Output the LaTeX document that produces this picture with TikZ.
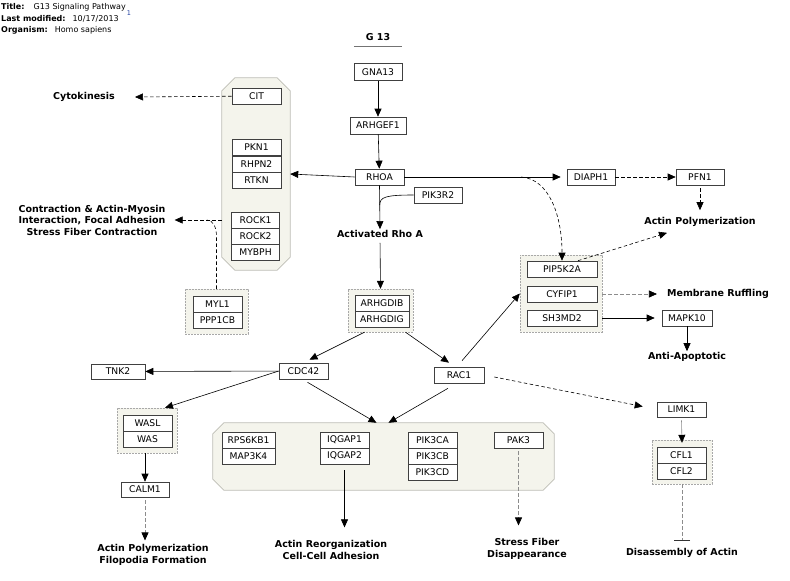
\documentclass[tikz,border=0pt]{standalone}
\usepackage{fontspec}
\setmainfont{DejaVu Sans}
\usetikzlibrary{arrows.meta,calc}
\definecolor{gfill}{HTML}{F4F4EC}
\definecolor{gline}{HTML}{BDBDB5}
\definecolor{dline}{HTML}{A8A8A8}
\definecolor{lnk}{HTML}{2040A0}
% octagon outline round a group node
\newcommand\chamf[2]{\draw[draw=gline,fill=gfill,line width=0.8pt]
  ($(#1.north west)+(#2,0)$) -- ($(#1.north east)+(-#2,0)$) -- ($(#1.north east)+(0,#2)$)
  -- ($(#1.south east)+(0,-#2)$) -- ($(#1.south east)+(-#2,0)$) -- ($(#1.south west)+(#2,0)$)
  -- ($(#1.south west)+(0,-#2)$) -- ($(#1.north west)+(0,#2)$) -- cycle;}

\begin{document}
\begin{tikzpicture}[x=1pt,y=-1pt,font=\fontsize{9.2}{11}\selectfont,
  gn/.style={draw=black!75,fill=white,minimum width=49pt,minimum height=16pt,inner sep=0pt,line width=0.6pt},
  cg/.style={inner sep=0pt},
  sg/.style={draw=dline,fill=gfill,inner sep=0pt,dash pattern=on 2pt off 1pt},
  lb/.style={font=\fontsize{9.5}{11.5}\selectfont\bfseries,align=center,inner sep=1pt},
  hd/.style={font=\fontsize{8}{10}\selectfont,inner sep=0pt,anchor=west},
  ar/.style={-{Triangle[length=8pt,width=7pt]},line width=0.6pt},
  dar/.style={ar,dash pattern=on 3.5pt off 2.5pt},
  gar/.style={-{Triangle[length=8pt,width=7pt,color=black]},line width=0.6pt,draw=black!45},
  gdar/.style={gar,dash pattern=on 3.5pt off 2.5pt},
  tbar/.style={-{Bar[width=16pt,line width=1.6pt,color=black!80]},line width=0.6pt,draw=black!45,dash pattern=on 3.5pt off 2.5pt}]
\useasboundingbox (0,0) rectangle (790,581);

% header
\node[hd] (ttl) at (1,7) {\textbf{Title:}\hspace{9pt}G13 Signaling Pathway};
\node[hd] (mod) at (1,18.5) {\textbf{Last modified:}\hspace{7pt}10/17/2013};
\node[hd] (org) at (1,30) {\textbf{Organism:}\hspace{7pt}Homo sapiens};
\node[font=\fontsize{6.5}{7}\selectfont,text=lnk,inner sep=0pt] (ref) at (129,13) {1};
\node[lb,minimum width=48pt] (g13) at (378,37) {G 13};
\draw[black!55] ([yshift=-4pt]g13.south west) -- ([yshift=-4pt]g13.south east);

% groups
\node[cg,minimum width=68pt,minimum height=192pt] (lgrp) at (256,174) {};
\node[cg,minimum width=341pt,minimum height=67pt] (bgrp) at (383.5,456.5) {};
\chamf{lgrp}{13}
\chamf{bgrp}{11}
\node[sg,minimum width=82pt,minimum height=77pt] (rgrp) at (561,293.5) {};
\node[sg,minimum width=65pt,minimum height=43pt] (dgrp) at (380.5,310.5) {};
\node[sg,minimum width=63pt,minimum height=45pt] (mgrp) at (216.5,311.5) {};
\node[sg,minimum width=60pt,minimum height=45pt] (wgrp) at (147,430.5) {};
\node[sg,minimum width=60pt,minimum height=44pt] (cgrp) at (682,462) {};

% gene products
\node[gn,minimum width=48pt,minimum height=17pt] (gna13) at (378,72) {GNA13};
\node[gn,minimum width=56pt,minimum height=17pt] (arhgef1) at (378,125.5) {ARHGEF1};
\node[gn] (rhoa) at (379.5,177) {RHOA};
\node[gn,minimum width=48pt] (pik3r2) at (438,195) {PIK3R2};
\node[gn] (cit) at (256.5,96) {CIT};
\node[gn] (pkn1) at (256.5,147.5) {PKN1};
\node[gn] (rhpn2) at (256.5,164) {RHPN2};
\node[gn] (rtkn) at (256.5,180) {RTKN};
\node[gn,minimum width=48pt] (rock1) at (255.5,220) {ROCK1};
\node[gn,minimum width=48pt] (rock2) at (255.5,236) {ROCK2};
\node[gn,minimum width=48pt] (mybph) at (255.5,252) {MYBPH};
\node[gn] (myl1) at (217.5,304.5) {MYL1};
\node[gn] (ppp1cb) at (217.5,320.5) {PPP1CB};
\node[gn,minimum width=54pt] (arhgdib) at (382,303.5) {ARHGDIB};
\node[gn,minimum width=54pt] (arhgdig) at (382,319.5) {ARHGDIG};
\node[gn] (cdc42) at (303.5,371) {CDC42};
\node[gn,minimum width=54pt,minimum height=15pt] (tnk2) at (118,371.5) {TNK2};
\node[gn,minimum width=50pt] (rac1) at (459,375) {RAC1};
\node[gn] (wasl) at (147.5,423) {WASL};
\node[gn] (was) at (147.5,439) {WAS};
\node[gn,minimum width=48pt,minimum height=15pt] (calm1) at (145,489.5) {CALM1};
\node[gn,minimum width=53pt] (rps6kb1) at (248.5,440) {RPS6KB1};
\node[gn,minimum width=53pt] (map3k4) at (248.5,456) {MAP3K4};
\node[gn] (iqgap1) at (344.5,440) {IQGAP1};
\node[gn] (iqgap2) at (344.5,456) {IQGAP2};
\node[gn] (pik3ca) at (432.5,440) {PIK3CA};
\node[gn] (pik3cb) at (432.5,456) {PIK3CB};
\node[gn] (pik3cd) at (432.5,472) {PIK3CD};
\node[gn] (pak3) at (518.5,440) {PAK3};
\node[gn,minimum width=70pt] (pip5k2a) at (562,269) {PIP5K2A};
\node[gn,minimum width=70pt] (cyfip1) at (562,294) {CYFIP1};
\node[gn,minimum width=70pt] (sh3md2) at (562,318) {SH3MD2};
\node[gn,minimum width=48pt] (diaph1) at (591,177) {DIAPH1};
\node[gn,minimum width=48pt] (pfn1) at (700,177) {PFN1};
\node[gn,minimum width=50pt] (mapk10) at (687,318) {MAPK10};
\node[gn,minimum height=15pt] (limk1) at (681.5,409.5) {LIMK1};
\node[gn] (cfl1) at (681.5,455) {CFL1};
\node[gn] (cfl2) at (681.5,471) {CFL2};

% labels
\node[lb] (cyto) at (84,97) {Cytokinesis};
\node[lb] (contr) at (92,220) {Contraction \& Actin-Myosin\\Interaction, Focal Adhesion\\Stress Fiber Contraction};
\node[lb] (actrho) at (380,234) {Activated Rho A};
\node[lb] (actpol) at (700,222) {Actin Polymerization};
\node[lb] (memruf) at (718,294) {Membrane Ruffling};
\node[lb] (antiapo) at (687,357) {Anti-Apoptotic};
\node[lb] (filo) at (153,555) {Actin Polymerization\\Filopodia Formation};
\node[lb] (reorg) at (331,550) {Actin Reorganization\\Cell-Cell Adhesion};
\node[lb] (sfd) at (527,549) {Stress Fiber\\Disappearance};
\node[lb] (disas) at (682,553) {Disassembly of Actin};

% connectors
\coordinate (pj) at ($(rhoa.south)!0.45!(actrho.north)$);
\coordinate (rj) at ($(rhoa.east)!0.72!(diaph1.west)$);
\coordinate (cj) at ($(rock1.west -| lgrp.west)!0.27!(contr.east)$);
\draw[ar] (gna13) -- (arhgef1);
\draw[ar] (arhgef1) -- (rhoa);
\draw[ar] (rhoa.south) -- (actrho.north);
\draw[line width=0.6pt] (pik3r2.west) .. controls +(-28,0) and +(0,-8) .. (pj);
\draw[ar,shorten <=4pt] (actrho.south) -- (dgrp.north);
\draw[ar] (rhoa.west) -- (lgrp.east);
\draw[ar,shorten >=6pt] (rhoa.east) -- (diaph1.west);
\draw[dar] (rj) .. controls +(28,2) and +(0,-45) .. (pip5k2a.north);
\draw[dar] (diaph1) -- (pfn1);
\draw[dar] ([yshift=-3pt]pfn1.south) -- ([yshift=6pt]actpol.north);
\draw[dar] ([xshift=16pt]pip5k2a.north) -- ([xshift=-33pt,yshift=-5pt]actpol.south);
\draw[gdar] (cyfip1.east -| rgrp.east) -- ([xshift=-9pt]memruf.west);
\draw[ar,shorten >=7pt] (sh3md2.east -| rgrp.east) -- (mapk10.west);
\draw[ar] (mapk10) -- (antiapo);
\draw[ar] ([xshift=3pt,yshift=6pt]rac1.north) -- (rgrp.west);
\draw[ar] ([xshift=-16pt]dgrp.south) -- ([xshift=6pt,yshift=3pt]cdc42.north);
\draw[ar] ([xshift=25pt]dgrp.south) -- ([xshift=-10pt,yshift=4pt]rac1.north);
\draw[ar] (cdc42) -- (tnk2);
\draw[ar] (cdc42.west) -- ([xshift=18pt]wgrp.north);
\draw[ar] ([xshift=4pt,yshift=-3pt]cdc42.south) -- ([xshift=-7pt]bgrp.north);
\draw[ar] ([xshift=-11pt,yshift=-5pt]rac1.south) -- ([xshift=5pt]bgrp.north);
\draw[dar] ([xshift=10pt,yshift=-2pt]rac1.east) -- ([xshift=-14pt,yshift=3pt]limk1.west);
\draw[gar] ([yshift=-3pt]limk1.south) -- ([yshift=-3pt]cgrp.north);
\draw[tbar] (cgrp.south) -- ([yshift=6pt]disas.north);
\draw[ar] (wgrp.south -| calm1) -- (calm1.north);
\draw[gdar] ([yshift=-3pt]calm1.south) -- ($(calm1.south |- filo.north)+(0,-3)$);
\draw[ar] ([yshift=-6pt]iqgap2.south) -- ($(iqgap2.south |- reorg.north)+(0,-12)$);
\draw[gdar] ([yshift=-3pt]pak3.south) -- ($(pak3.south |- sfd.north)+(0,-12)$);
\draw[dar] (cit) -- ($(cyto.east)+(19,0)$);
\draw[dar] (rock1.west -| lgrp.west) -- ($(contr.east)+(8,0)$);
\draw[line width=0.6pt,dash pattern=on 3.5pt off 2.5pt] (mgrp.north) -- ++(0,-52) .. controls +(0,-10) and +(6,0) .. (cj);
\end{tikzpicture}
\end{document}
